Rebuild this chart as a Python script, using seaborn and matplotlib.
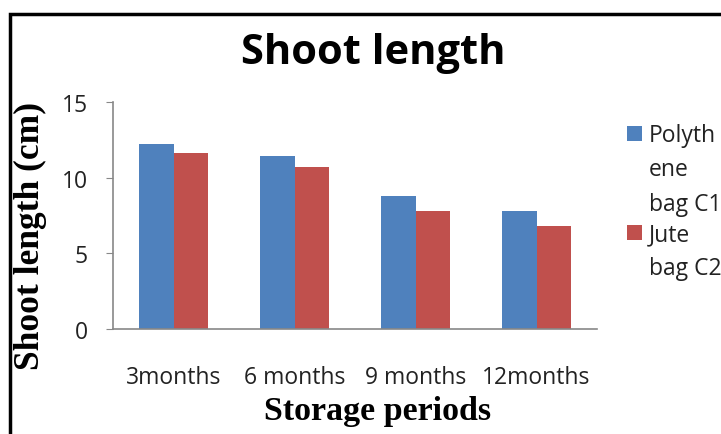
import pandas as pd
import seaborn as sns
from matplotlib import pyplot as plt
from matplotlib.patches import Rectangle

sns.set_style("ticks")

periods = ["3months", "6 months", "9 months", "12months"]
series = ["Polyth\nene\nbag C1", "Jute\nbag C2"]
poly_vals = [12.2, 11.4, 8.8, 7.8]
jute_vals = [11.6, 10.7, 7.8, 6.8]
colors = ["#4f81bd", "#c0504d"]

d = pd.DataFrame({
    "period": periods * 2,
    "bag": [series[0]] * 4 + [series[1]] * 4,
    "length": poly_vals + jute_vals,
})

fig = plt.figure(figsize=(7.21, 4.35), dpi=100)
ax = fig.add_axes([113 / 721, 1 - 330 / 435, 484 / 721, 227 / 435])

sns.barplot(data=d, x="period", y="length", hue="bag", palette=colors,
            width=0.57, saturation=1, ax=ax, legend=False, linewidth=0)

ax.set_ylim(0, 15)
ax.set_yticks([0, 5, 10, 15])
ax.set_xlim(-0.5, 3.5)
sns.despine(ax=ax)
for s in ["left", "bottom"]:
    ax.spines[s].set_color("#888888")
    ax.spines[s].set_linewidth(1.2)
ax.tick_params(axis="y", colors="#888888", labelcolor="#222222", labelsize=16.5, length=5, pad=13)
ax.tick_params(axis="x", length=0, labelcolor="#222222", labelsize=16.5, pad=26)
for t in ax.get_xticklabels() + ax.get_yticklabels():
    t.set_family("Open Sans")
ax.set_xlabel("")
ax.set_ylabel("")

# axis titles placed in figure pixels, as in the reference
fig.text(378 / 721, 1 - 412 / 435, "Storage periods", family="Liberation Serif", weight="bold",
         fontsize=24.5, color="black", ha="center", va="center")
fig.text(30 / 721, 1 - 236 / 435, "Shoot length (cm)", family="Liberation Serif", weight="bold",
         fontsize=25.5, color="black", ha="center", va="center", rotation=90)

fig.text(373 / 721, 1 - 53 / 435, "Shoot length", family="Open Sans", weight="bold",
         fontsize=30, ha="center", va="center", color="black")

# legend drawn by hand so the swatch sits on the first line of wrapped text
leg_tops = [127, 226]
for lab, c, top in zip(series, colors, leg_tops):
    fig.patches.append(Rectangle((627 / 721, 1 - (top + 15) / 435), 15 / 721, 15 / 435,
                                 transform=fig.transFigure, facecolor=c, edgecolor="none"))
    fig.text(649 / 721, 1 - (top - 3) / 435, lab, family="Open Sans", fontsize=16.5,
             color="#222222", ha="left", va="top", linespacing=1.57)

fig.patches.append(Rectangle((10 / 721, -0.1), 1.2, 1 - 15 / 435 + 0.1, transform=fig.transFigure,
                             fill=False, edgecolor="black", linewidth=2.5))

plt.savefig("out.png", dpi=100)
plt.close()
